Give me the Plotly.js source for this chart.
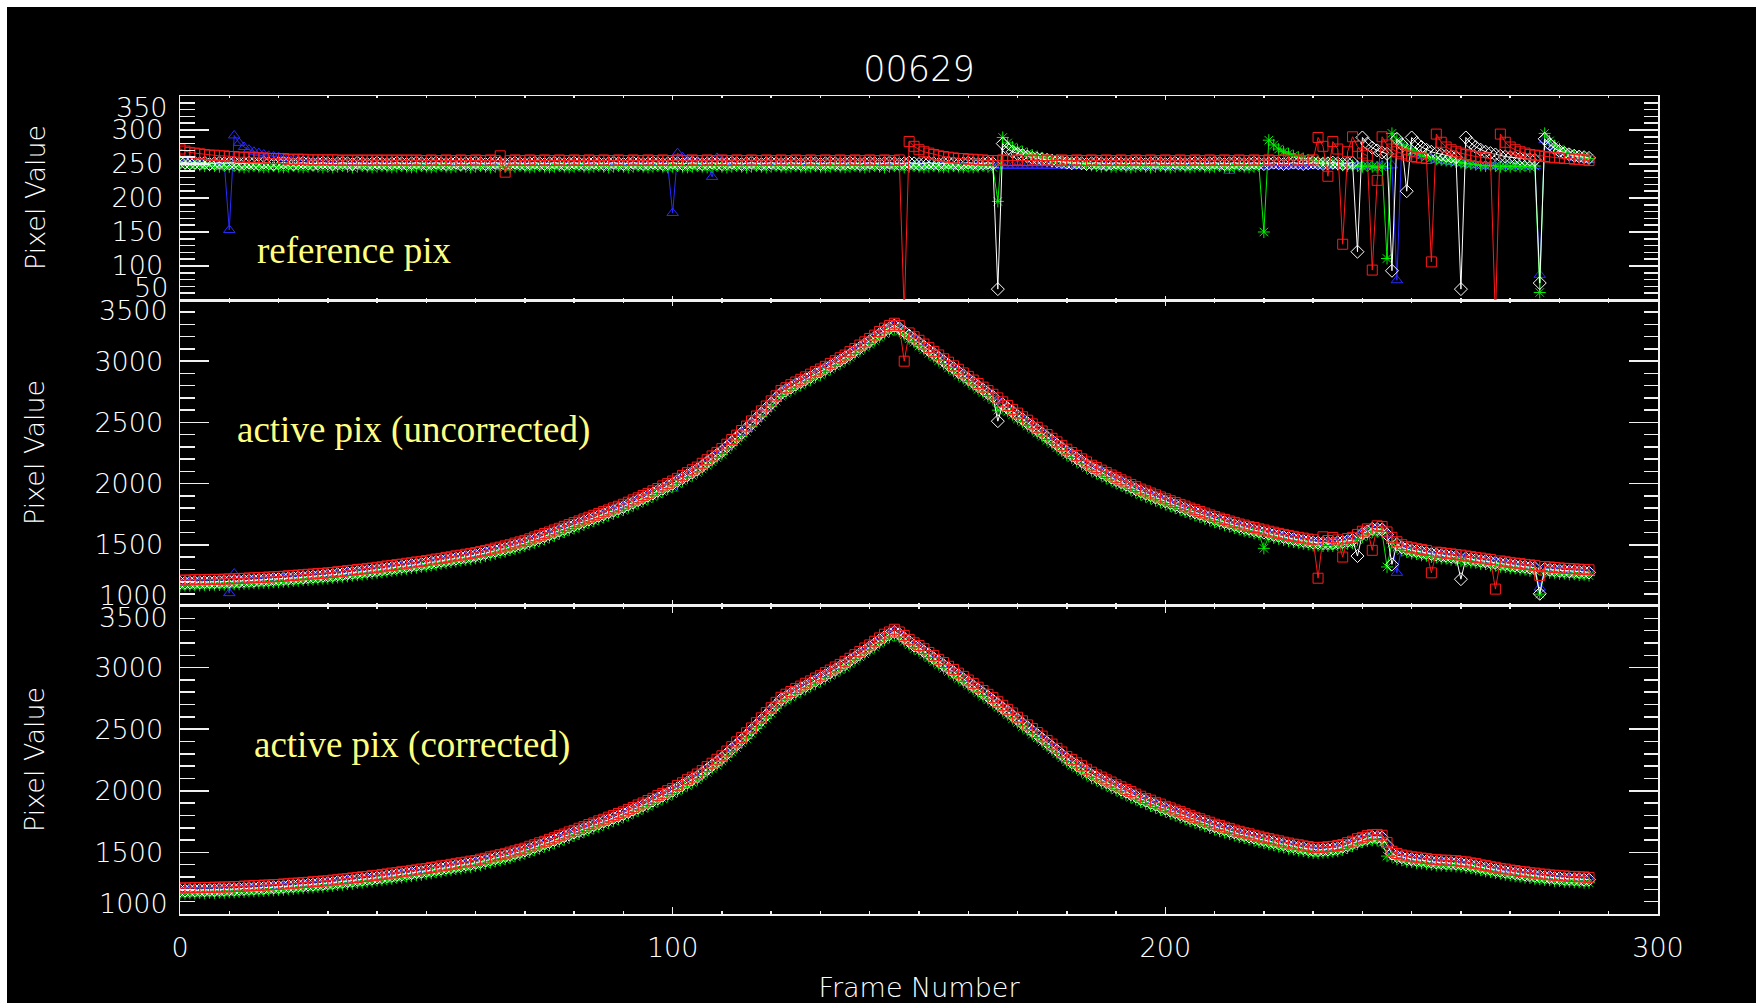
<!DOCTYPE html>
<html><head><meta charset="utf-8">
<script src="https://cdn.plot.ly/plotly-3.0.1.min.js"></script>
<style>html,body{margin:0;padding:0;background:#ffffff;}#chart{position:absolute;left:7px;top:7px;width:1749px;height:996px;}</style>
</head><body><div id="chart"></div>
<script>
const frames = Array.from({length: 287}, (_, i) => i);

// ---- top panel: reference pixels ----
const refBlue = [
254,253,253,252,252,251,251,250,250,250,
153,292,281,275,271,268,266,264,262,261,
260,259,258,257,256,255,254,253,252,251,
250,249,250,249,248,249,250,249,248,249,
249,248,249,250,249,248,249,248,249,250,
249,248,249,248,249,250,249,248,249,248,
249,250,249,248,249,248,249,250,249,248,
249,248,249,250,249,248,249,248,249,250,
249,248,249,248,249,250,249,248,249,248,
249,250,249,248,249,248,249,250,249,248,
178,266,260,257,255,253,252,251,231,259,
255,253,251,250,249,248,249,250,249,248,
249,248,249,250,249,248,249,248,249,250,
249,248,249,248,249,250,249,248,249,248,
249,250,249,248,249,248,249,250,249,248,
248,247,248,247,248,247,248,247,248,247,
248,247,248,247,248,247,248,247,248,247,
248,247,248,247,248,247,248,247,248,247,
248,247,248,247,248,247,248,247,248,247,
248,247,248,247,248,247,248,247,248,247,
248,247,248,247,248,247,248,247,248,247,
248,247,248,240,248,247,248,247,248,247,
248,247,248,247,248,247,248,247,248,247,
248,247,248,247,248,247,248,247,248,247,
248,247,248,247,248,247,248,79,282,274,
269,265,262,260,258,256,255,254,253,252,
251,250,249,248,248,247,248,247,248,247,
248,247,248,247,248,247,87,285,276,270,
266,263,261,259,258,257,256];
const refGreen = [
250,249,248,249,248,247,248,247,246,247,
246,247,246,245,246,247,246,245,246,247,
246,245,246,247,246,245,246,247,246,245,
246,245,246,247,246,245,246,247,246,245,
246,247,246,245,246,247,246,245,246,247,
246,245,246,247,246,245,246,247,246,245,
246,247,246,245,246,247,246,245,246,247,
246,245,246,247,246,245,246,247,246,245,
246,247,246,245,246,247,246,245,246,247,
246,245,246,247,246,245,246,247,246,245,
246,247,246,245,246,247,246,245,246,247,
246,245,246,247,246,245,246,247,246,245,
246,247,246,245,246,247,246,245,246,247,
246,245,246,247,246,245,246,247,246,245,
246,247,246,245,246,247,246,245,246,247,
246,245,246,247,246,245,246,247,246,245,
246,245,246,247,246,245,195,289,281,275,
271,268,265,263,261,259,257,256,255,254,
253,252,251,250,249,248,247,246,247,246,
246,247,246,245,246,247,246,245,246,247,
246,245,246,247,246,245,246,247,246,245,
246,247,246,245,246,247,246,245,246,247,
150,285,278,272,268,265,262,260,258,256,
255,253,252,251,250,249,248,247,248,247,
246,247,246,245,246,111,295,285,278,273,
269,266,263,261,259,257,256,255,254,253,
252,251,250,249,248,247,248,247,246,247,
246,247,246,247,246,247,61,295,284,277,
272,268,265,263,261,259,258];
const refWhite = [
253,252,251,252,251,252,250,251,252,251,
251,252,250,251,252,251,250,252,251,250,
251,252,251,250,251,252,251,250,251,252,
251,250,251,252,251,250,252,251,250,251,
252,251,250,251,252,251,250,251,252,251,
250,251,252,251,250,251,252,250,251,251,
252,251,250,251,252,251,250,251,252,251,
250,251,252,251,250,251,252,251,250,251,
252,251,250,251,252,251,250,251,252,251,
250,251,252,251,250,251,252,251,250,251,
252,251,250,251,252,251,250,251,252,251,
250,251,252,251,250,251,252,251,250,251,
252,251,250,251,252,251,250,251,252,251,
250,251,252,251,250,251,252,251,250,251,
252,251,250,251,252,251,250,251,252,251,
250,251,252,251,250,251,252,251,250,251,
252,251,250,251,252,251,66,280,272,268,
265,263,261,259,258,257,256,255,254,253,
252,251,252,251,250,251,252,251,250,251,
252,251,250,251,252,251,250,251,252,251,
250,251,252,251,250,251,252,251,250,251,
252,251,250,251,252,251,250,251,252,251,
250,251,252,251,250,251,252,251,250,251,
252,251,250,251,252,251,250,251,252,121,
289,280,274,270,267,265,93,287,279,210,
289,281,275,271,268,266,264,262,261,260,
66,289,281,275,271,268,266,264,262,261,
260,259,258,257,257,256,75,287,279,273,
269,266,264,262,261,260,259];
const refRed = [
272,269,267,266,265,264,263,263,262,262,
261,261,260,260,260,259,259,259,258,258,
258,258,257,257,257,257,256,256,256,256,
256,256,256,255,256,255,256,255,256,255,
256,255,256,255,256,255,256,255,256,255,
255,256,255,255,256,255,255,256,255,255,
256,255,255,256,255,262,238,255,256,255,
255,256,255,255,256,255,255,256,255,255,
256,255,255,256,255,255,256,255,255,256,
255,255,256,255,255,256,255,255,256,255,
255,256,255,255,256,255,255,256,255,255,
256,255,255,256,255,255,256,255,255,256,
255,255,256,255,255,256,255,255,256,255,
255,256,255,255,256,255,255,256,255,255,
256,255,255,256,255,255,256,30,283,276,
271,268,266,264,262,261,260,259,258,258,
257,257,256,256,255,255,255,256,255,255,
256,255,255,256,255,255,256,255,255,256,
255,255,256,255,255,256,255,255,256,255,
255,256,255,255,256,255,255,256,255,255,
256,255,255,256,255,255,256,255,255,256,
255,255,256,255,255,256,255,255,256,255,
255,256,255,255,256,255,255,256,255,255,
256,289,276,232,283,272,132,268,290,276,
266,262,94,226,290,278,272,268,265,263,
261,260,259,258,106,294,282,275,271,268,
266,264,262,261,260,259,258,20,294,282,
275,271,268,266,264,263,262,261,260,259,
259,258,258,257,257,256,255];

// ---- middle panel: active pixels, uncorrected ----
const rawBlue = [
1195,1196,1198,1197,1200,1199,1202,1201,1204,1203,
1105,1265,1212,1210,1214,1214,1218,1218,1222,1222,
1226,1227,1232,1233,1238,1239,1244,1245,1250,1251,
1256,1258,1265,1267,1274,1276,1283,1285,1292,1294,
1301,1304,1312,1315,1323,1326,1334,1337,1345,1348,
1356,1360,1369,1373,1382,1386,1395,1399,1408,1412,
1421,1428,1439,1447,1458,1465,1476,1485,1499,1508,
1521,1533,1549,1561,1577,1589,1606,1619,1636,1649,
1666,1679,1696,1709,1726,1739,1756,1769,1786,1799,
1816,1832,1852,1868,1888,1904,1926,1944,1966,1984,
1958,2027,2052,2073,2098,2119,2151,2179,2211,2239,
2271,2306,2345,2380,2419,2454,2497,2536,2579,2618,
2661,2701,2746,2767,2793,2814,2837,2856,2879,2898,
2921,2942,2967,2988,3013,3034,3063,3088,3117,3142,
3171,3197,3228,3254,3276,3294,3276,3244,3216,3184,
3156,3124,3096,3064,3036,3004,2977,2946,2919,2888,
2861,2830,2803,2772,2745,2714,2685,2652,2623,2590,
2561,2530,2503,2472,2445,2414,2386,2354,2326,2294,
2266,2238,2214,2186,2162,2134,2116,2094,2076,2054,
2036,2015,1998,1977,1960,1939,1925,1907,1893,1875,
1861,1844,1831,1814,1801,1784,1772,1756,1744,1728,
1716,1702,1692,1678,1668,1654,1646,1634,1626,1614,
1606,1595,1588,1577,1570,1559,1554,1545,1540,1531,
1526,1522,1522,1519,1522,1524,1531,1536,1546,1569,
1596,1614,1636,1634,1631,1589,1546,1271,1486,1469,
1461,1452,1447,1438,1433,1424,1421,1414,1411,1404,
1401,1393,1389,1381,1377,1369,1365,1357,1353,1345,
1341,1334,1331,1324,1321,1314,1150,1306,1304,1298,
1296,1292,1291,1287,1286,1282,1281];
const rawGreen = [
1165,1167,1166,1169,1168,1171,1170,1173,1172,1175,
1174,1178,1178,1182,1182,1186,1186,1190,1190,1194,
1194,1199,1200,1205,1206,1211,1212,1217,1218,1223,
1224,1230,1233,1239,1242,1248,1251,1257,1260,1266,
1269,1276,1280,1287,1291,1298,1302,1309,1313,1320,
1324,1332,1337,1345,1350,1358,1363,1371,1376,1384,
1389,1400,1407,1419,1426,1437,1444,1457,1467,1480,
1489,1505,1517,1533,1545,1561,1574,1591,1604,1621,
1634,1651,1664,1681,1694,1711,1724,1741,1754,1771,
1784,1804,1820,1840,1856,1876,1894,1916,1934,1956,
1974,1999,2020,2045,2066,2091,2119,2151,2179,2211,
2239,2278,2313,2352,2387,2426,2465,2508,2547,2590,
2629,2673,2714,2739,2761,2786,2805,2828,2847,2870,
2889,2914,2935,2960,2981,3006,3031,3060,3085,3114,
3139,3169,3196,3226,3244,3266,3244,3216,3184,3156,
3124,3096,3064,3036,3004,2976,2945,2918,2887,2860,
2829,2802,2771,2744,2713,2686,2600,2624,2591,2562,
2529,2502,2471,2444,2413,2386,2354,2326,2294,2266,
2234,2210,2182,2158,2130,2106,2084,2066,2044,2026,
2004,1987,1966,1949,1928,1911,1893,1879,1861,1847,
1829,1816,1799,1786,1769,1756,1740,1728,1712,1700,
1684,1674,1660,1650,1636,1626,1614,1606,1594,1586,
1471,1567,1556,1549,1538,1531,1522,1517,1508,1503,
1494,1494,1490,1491,1490,1496,1499,1508,1514,1541,
1564,1586,1604,1606,1599,1319,1514,1482,1454,1442,
1429,1425,1414,1411,1400,1397,1388,1387,1378,1377,
1369,1366,1356,1354,1344,1342,1332,1330,1320,1318,
1308,1307,1298,1297,1288,1287,1097,1279,1271,1271,
1263,1265,1258,1260,1253,1255,1248];
const rawWhite = [
1192,1190,1193,1195,1193,1196,1197,1195,1199,1200,
1201,1203,1203,1207,1210,1209,1213,1215,1216,1220,
1221,1224,1226,1230,1233,1234,1239,1242,1243,1248,
1251,1253,1260,1262,1269,1272,1276,1282,1285,1291,
1294,1301,1305,1312,1316,1323,1327,1334,1338,1345,
1349,1357,1362,1370,1375,1383,1388,1396,1401,1409,
1414,1425,1432,1444,1451,1462,1469,1482,1492,1505,
1514,1530,1542,1558,1570,1586,1599,1616,1629,1646,
1659,1676,1689,1706,1719,1736,1749,1766,1779,1796,
1809,1829,1845,1865,1881,1901,1919,1941,1959,1981,
1999,2024,2045,2070,2091,2116,2144,2176,2204,2236,
2264,2303,2338,2377,2412,2451,2490,2533,2572,2615,
2654,2698,2739,2764,2786,2811,2830,2853,2872,2895,
2914,2939,2960,2985,3006,3031,3056,3085,3110,3139,
3164,3194,3221,3251,3269,3291,3269,3241,3209,3181,
3149,3121,3089,3061,3029,3001,2970,2943,2912,2885,
2854,2827,2796,2769,2738,2711,2510,2649,2616,2587,
2554,2527,2496,2469,2438,2411,2379,2351,2319,2291,
2259,2235,2207,2183,2155,2131,2109,2091,2069,2051,
2029,2012,1991,1974,1953,1936,1918,1904,1886,1872,
1854,1841,1824,1811,1794,1781,1765,1753,1737,1725,
1709,1699,1685,1675,1661,1651,1639,1631,1619,1611,
1599,1592,1581,1574,1563,1556,1547,1542,1533,1528,
1519,1519,1515,1516,1515,1521,1524,1533,1539,1408,
1591,1609,1631,1629,1626,1584,1340,1506,1479,1466,
1454,1449,1440,1435,1426,1421,1414,1411,1404,1401,
1219,1390,1382,1378,1370,1366,1358,1354,1346,1342,
1334,1331,1324,1321,1314,1311,1100,1303,1297,1295,
1289,1289,1284,1284,1279,1279,1274];
const rawRed = [
1212,1210,1213,1214,1215,1214,1217,1218,1217,1220,
1221,1222,1225,1226,1229,1230,1233,1234,1237,1238,
1241,1243,1247,1249,1253,1255,1259,1261,1265,1267,
1271,1274,1280,1283,1289,1292,1298,1301,1307,1310,
1316,1320,1327,1331,1338,1342,1349,1353,1360,1364,
1371,1376,1384,1389,1397,1402,1410,1415,1423,1428,
1436,1444,1454,1463,1473,1481,1491,1501,1514,1524,
1536,1549,1564,1577,1592,1605,1621,1635,1651,1665,
1681,1695,1711,1725,1741,1755,1771,1785,1801,1815,
1831,1848,1867,1884,1903,1920,1941,1960,1981,2000,
2021,2043,2067,2089,2113,2135,2166,2195,2226,2255,
2286,2322,2360,2396,2434,2470,2512,2552,2594,2634,
2676,2717,2761,2783,2808,2830,2852,2872,2894,2914,
2936,2958,2982,3004,3028,3050,3078,3104,3132,3158,
3186,3213,3243,3270,3291,3310,3291,3000,3231,3200,
3171,3140,3111,3080,3051,3020,2992,2962,2934,2904,
2876,2846,2818,2788,2760,2730,2700,2668,2638,2606,
2576,2546,2518,2488,2460,2430,2401,2370,2341,2310,
2281,2254,2229,2202,2177,2150,2131,2110,2091,2070,
2051,2031,2013,1993,1975,1955,1940,1923,1908,1891,
1876,1860,1846,1830,1816,1800,1787,1772,1759,1744,
1731,1718,1707,1694,1683,1670,1661,1650,1641,1630,
1621,1611,1603,1593,1585,1575,1569,1561,1555,1547,
1541,1227,1565,1535,1560,1540,1400,1552,1561,1585,
1611,1630,1455,1655,1650,1605,1561,1525,1501,1485,
1476,1468,1462,1454,1271,1440,1436,1430,1426,1420,
1416,1409,1404,1397,1392,1385,1380,1138,1368,1361,
1356,1350,1346,1340,1336,1330,1250,1322,1319,1314,
1311,1308,1306,1303,1301,1298,1296];

// ---- bottom panel: active pixels, corrected ----
const corBlue = [
1196,1195,1198,1197,1200,1199,1202,1201,1204,1203,
1206,1206,1210,1210,1214,1214,1218,1218,1222,1222,
1226,1227,1232,1233,1238,1239,1244,1245,1250,1251,
1256,1258,1265,1267,1274,1276,1283,1285,1292,1294,
1301,1304,1312,1315,1323,1326,1334,1337,1345,1348,
1356,1360,1369,1373,1382,1386,1395,1399,1408,1412,
1421,1428,1439,1447,1458,1465,1476,1485,1499,1508,
1521,1533,1549,1561,1577,1589,1606,1619,1636,1649,
1666,1679,1696,1709,1726,1739,1756,1769,1786,1799,
1816,1832,1852,1868,1888,1904,1926,1944,1966,1984,
2006,2027,2052,2073,2098,2119,2151,2179,2211,2239,
2271,2306,2345,2380,2419,2454,2497,2536,2579,2618,
2661,2701,2746,2767,2793,2814,2837,2856,2879,2898,
2921,2942,2967,2988,3013,3034,3063,3088,3117,3142,
3171,3197,3228,3254,3276,3294,3276,3244,3216,3184,
3166,3136,3110,3080,3054,3024,2998,2968,2942,2912,
2886,2855,2828,2797,2770,2739,2710,2677,2648,2615,
2584,2551,2522,2489,2460,2427,2396,2362,2332,2298,
2266,2238,2214,2186,2162,2134,2116,2094,2076,2054,
2036,2015,1998,1977,1960,1939,1925,1907,1893,1875,
1861,1844,1831,1814,1801,1784,1772,1756,1744,1728,
1716,1702,1692,1678,1668,1654,1646,1634,1626,1614,
1606,1595,1588,1577,1570,1559,1554,1545,1540,1531,
1526,1524,1528,1529,1536,1539,1551,1562,1578,1594,
1609,1619,1631,1629,1626,1564,1496,1474,1466,1454,
1451,1444,1441,1434,1431,1424,1424,1420,1420,1416,
1414,1406,1402,1392,1386,1376,1371,1362,1357,1348,
1344,1336,1332,1325,1322,1315,1312,1306,1304,1298,
1297,1292,1292,1288,1288,1284,1284];
const corGreen = [
1166,1165,1168,1167,1170,1169,1172,1171,1174,1173,
1176,1176,1180,1180,1184,1184,1188,1188,1192,1192,
1196,1197,1202,1203,1208,1209,1214,1215,1220,1221,
1226,1228,1235,1237,1244,1246,1253,1255,1262,1264,
1271,1274,1282,1285,1293,1296,1304,1307,1315,1318,
1326,1330,1339,1343,1352,1356,1365,1369,1378,1382,
1391,1398,1409,1417,1428,1435,1446,1455,1469,1478,
1491,1503,1519,1531,1547,1559,1576,1589,1606,1619,
1636,1649,1666,1679,1696,1709,1726,1739,1756,1769,
1786,1802,1822,1838,1858,1874,1896,1914,1936,1954,
1976,1997,2022,2043,2068,2089,2121,2149,2181,2209,
2241,2276,2315,2350,2389,2424,2467,2506,2549,2588,
2631,2671,2716,2737,2763,2784,2807,2826,2849,2868,
2891,2912,2937,2958,2983,3004,3033,3058,3087,3112,
3141,3167,3198,3224,3246,3264,3246,3214,3186,3154,
3136,3106,3080,3050,3024,2994,2968,2938,2912,2882,
2856,2825,2798,2767,2740,2709,2680,2647,2618,2585,
2554,2521,2492,2459,2430,2397,2366,2332,2302,2268,
2236,2208,2184,2156,2132,2104,2086,2064,2046,2024,
2006,1985,1968,1947,1930,1909,1895,1877,1863,1845,
1831,1814,1801,1784,1771,1754,1742,1726,1714,1698,
1686,1672,1662,1648,1638,1624,1616,1604,1596,1584,
1576,1565,1558,1547,1540,1529,1524,1515,1510,1501,
1496,1494,1498,1499,1506,1509,1521,1535,1552,1570,
1585,1592,1598,1598,1580,1470,1465,1444,1436,1424,
1421,1414,1411,1404,1401,1394,1394,1390,1390,1386,
1384,1376,1372,1362,1356,1346,1341,1332,1327,1318,
1314,1306,1302,1295,1292,1285,1282,1276,1274,1268,
1267,1262,1262,1258,1258,1254,1254];
const corWhite = [
1191,1190,1193,1192,1195,1194,1197,1196,1199,1198,
1201,1201,1205,1205,1209,1209,1213,1213,1217,1217,
1221,1222,1227,1228,1233,1234,1239,1240,1245,1246,
1251,1253,1260,1262,1269,1271,1278,1280,1287,1289,
1296,1299,1307,1310,1318,1321,1329,1332,1340,1343,
1351,1355,1364,1368,1377,1381,1390,1394,1403,1407,
1416,1423,1434,1442,1453,1460,1471,1480,1494,1503,
1516,1528,1544,1556,1572,1584,1601,1614,1631,1644,
1661,1674,1691,1704,1721,1734,1751,1764,1781,1794,
1811,1827,1847,1863,1883,1899,1921,1939,1961,1979,
2001,2022,2047,2068,2093,2114,2146,2174,2206,2234,
2266,2301,2340,2375,2414,2449,2492,2531,2574,2613,
2656,2696,2741,2762,2788,2809,2832,2851,2874,2893,
2916,2937,2962,2983,3008,3029,3058,3083,3112,3137,
3166,3192,3223,3249,3271,3289,3271,3239,3211,3179,
3161,3131,3105,3075,3049,3019,2993,2963,2937,2907,
2881,2850,2823,2792,2765,2734,2705,2672,2643,2610,
2579,2546,2517,2484,2455,2422,2391,2357,2327,2293,
2261,2233,2209,2181,2157,2129,2111,2089,2071,2049,
2031,2010,1993,1972,1955,1934,1920,1902,1888,1870,
1856,1839,1826,1809,1796,1779,1767,1751,1739,1723,
1711,1697,1687,1673,1663,1649,1641,1629,1621,1609,
1601,1590,1583,1572,1565,1554,1549,1540,1535,1526,
1521,1519,1523,1524,1531,1534,1546,1557,1573,1589,
1604,1614,1626,1624,1621,1559,1491,1469,1461,1449,
1446,1439,1436,1429,1426,1419,1419,1415,1415,1411,
1409,1401,1397,1387,1381,1371,1366,1357,1352,1343,
1339,1331,1327,1320,1317,1310,1307,1301,1299,1293,
1292,1287,1287,1283,1283,1279,1279];
const corRed = [
1210,1212,1211,1214,1213,1216,1215,1218,1217,1220,
1219,1223,1223,1227,1227,1231,1231,1235,1235,1239,
1239,1244,1245,1250,1251,1256,1257,1262,1263,1268,
1269,1275,1278,1284,1287,1293,1296,1302,1305,1311,
1314,1321,1325,1332,1336,1343,1347,1354,1358,1365,
1369,1377,1382,1390,1395,1403,1408,1416,1421,1429,
1434,1445,1452,1464,1471,1482,1489,1502,1512,1525,
1534,1550,1562,1578,1590,1606,1619,1636,1649,1666,
1679,1696,1709,1726,1739,1756,1769,1786,1799,1816,
1829,1849,1865,1885,1901,1921,1939,1961,1979,2001,
2019,2044,2065,2090,2111,2136,2164,2196,2224,2256,
2284,2323,2358,2397,2432,2471,2510,2553,2592,2635,
2674,2718,2759,2784,2806,2831,2850,2873,2892,2915,
2934,2959,2980,3005,3026,3051,3076,3105,3130,3159,
3184,3214,3241,3271,3289,3311,3289,3261,3229,3201,
3179,3153,3123,3097,3067,3041,3011,2985,2955,2929,
2899,2872,2841,2814,2783,2756,2723,2694,2661,2632,
2597,2568,2535,2506,2473,2444,2409,2379,2345,2315,
2279,2255,2227,2203,2175,2151,2129,2111,2089,2071,
2049,2032,2011,1994,1973,1956,1938,1924,1906,1892,
1874,1861,1844,1831,1814,1801,1785,1773,1757,1745,
1729,1719,1705,1695,1681,1671,1659,1651,1639,1631,
1619,1612,1601,1594,1583,1576,1567,1562,1553,1548,
1539,1541,1541,1546,1549,1556,1564,1579,1591,1611,
1622,1636,1644,1646,1639,1581,1509,1491,1479,1471,
1464,1461,1454,1451,1444,1441,1437,1437,1433,1433,
1427,1423,1415,1409,1399,1393,1384,1379,1370,1365,
1357,1353,1345,1342,1335,1332,1325,1323,1317,1315,
1310,1309,1305,1305,1301,1301,1297];

const xTickVals = [0, 100, 200, 300];
const refTickVals = [100, 150, 200, 250, 300];
const actTickVals = [1500, 2000, 2500, 3000];
const chartTitle = '00629';
const panelLabels = ['reference pix', 'active pix (uncorrected)', 'active pix (corrected)'];

const FONT = 'DejaVu Sans, Liberation Sans, sans-serif';
const tickFont = {family: FONT, size: 27, color: '#ffffff', weight: 200};
const LINE = '#f0f0f0';

function series(y, xa, ya, color, symbol) {
  return {x: frames, y: y, xaxis: xa, yaxis: ya, type: 'scatter', mode: 'lines+markers',
    line: {color: color, width: 1}, cliponaxis: true, hoverinfo: 'skip',
    marker: {symbol: symbol, color: color, size: 10, line: {color: color, width: 1}}};
}
const BLUE = '#2b2bff', GREEN = '#00f000', WHITE = '#ffffff', RED = '#ff1a1a';
const data = [
  series(refBlue, 'x3', 'y3', BLUE, 'triangle-up-open'),
  series(refGreen, 'x3', 'y3', GREEN, 'asterisk-open'),
  series(refWhite, 'x3', 'y3', WHITE, 'diamond-open'),
  series(refRed, 'x3', 'y3', RED, 'square-open'),
  series(rawBlue, 'x2', 'y2', BLUE, 'triangle-up-open'),
  series(rawGreen, 'x2', 'y2', GREEN, 'asterisk-open'),
  series(rawWhite, 'x2', 'y2', WHITE, 'diamond-open'),
  series(rawRed, 'x2', 'y2', RED, 'square-open'),
  series(corBlue, 'x', 'y', BLUE, 'triangle-up-open'),
  series(corGreen, 'x', 'y', GREEN, 'asterisk-open'),
  series(corWhite, 'x', 'y', WHITE, 'diamond-open'),
  series(corRed, 'x', 'y', RED, 'square-open')
];

function xAxis(anchor, len, labels) {
  const a = {anchor: anchor, range: [0, 300], tickmode: 'array', tickvals: xTickVals,
    ticks: 'inside', ticklen: len, tickwidth: 1.5, tickcolor: LINE,
    minor: {tickmode: 'linear', tick0: 0, dtick: 10, ticks: 'inside', ticklen: len / 2, tickwidth: 1.5, tickcolor: LINE},
    showline: true, linecolor: LINE, linewidth: 1.5, mirror: 'allticks',
    showgrid: false, zeroline: false, showticklabels: labels, tickfont: tickFont, ticklabelstandoff: 9};
  if (labels) a.title = {text: 'Frame Number', font: tickFont, standoff: 19};
  return a;
}
function yAxis(domain, range, vals, minorStep) {
  return {domain: domain, range: range, tickmode: 'array', tickvals: vals,
    ticks: 'inside', ticklen: 29, tickwidth: 1.5, tickcolor: LINE,
    minor: {tickmode: 'linear', tick0: 0, dtick: minorStep, ticks: 'inside', ticklen: 14.5, tickwidth: 1.5, tickcolor: LINE},
    showline: true, linecolor: LINE, linewidth: 1.5, mirror: 'allticks',
    showgrid: false, zeroline: false, tickfont: tickFont, ticklabelstandoff: 10};
}
const dBot = [0, 0.37653], dMid = [0.37653, 0.75061], dTop = [0.75061, 1];

function edgeLabel(text, yref, y, shift) {
  return {text: text, xref: 'paper', x: 0, xanchor: 'right', xshift: -10, yref: yref, y: y,
    yanchor: 'middle', yshift: shift, showarrow: false, font: tickFont};
}
function yTitle(domain) {
  return {text: 'Pixel Value', textangle: -90, xref: 'paper', x: 0, xanchor: 'center', xshift: -145,
    yref: 'paper', y: (domain[0] + domain[1]) / 2, yanchor: 'middle', showarrow: false, font: tickFont};
}
const labelFont = {family: 'Liberation Serif, Times New Roman, serif', size: 37, color: '#ffff80'};
const annotations = [
  edgeLabel('350', 'y3', 350, -11), edgeLabel('50', 'y3', 50, 13),
  edgeLabel('3500', 'y2', 3500, -10), edgeLabel('1000', 'y2', 1000, 11),
  edgeLabel('3500', 'y', 3500, -12), edgeLabel('1000', 'y', 1000, 10),
  yTitle(dTop), yTitle(dMid), yTitle(dBot),
  {text: panelLabels[0], xref: 'x3', x: 15.2, yref: 'y3', y: 123, xanchor: 'left', yanchor: 'middle', showarrow: false, font: labelFont},
  {text: panelLabels[1], xref: 'x2', x: 11.2, yref: 'y2', y: 2437, xanchor: 'left', yanchor: 'middle', showarrow: false, font: labelFont},
  {text: panelLabels[2], xref: 'x', x: 14.6, yref: 'y', y: 2372, xanchor: 'left', yanchor: 'middle', showarrow: false, font: labelFont}
];

const layout = {
  width: 1749, height: 996,
  paper_bgcolor: '#000000', plot_bgcolor: '#000000',
  margin: {l: 173, r: 98, t: 89, b: 89, pad: 0},
  showlegend: false,
  title: {text: chartTitle, font: {family: FONT, size: 35, color: '#ffffff', weight: 200},
    xref: 'paper', x: 0.5, xanchor: 'center', yref: 'container', y: 0.9378, yanchor: 'middle'},
  xaxis: xAxis('y', 7, true),
  xaxis2: xAxis('y2', 6, false),
  xaxis3: xAxis('y3', 4, false),
  yaxis: yAxis(dBot, [1000, 3500], actTickVals, 100),
  yaxis2: yAxis(dMid, [1000, 3500], actTickVals, 100),
  yaxis3: yAxis(dTop, [50, 350], refTickVals, 10),
  annotations: annotations
};
Plotly.newPlot('chart', data, layout, {staticPlot: true, displayModeBar: false});
</script></body></html>
